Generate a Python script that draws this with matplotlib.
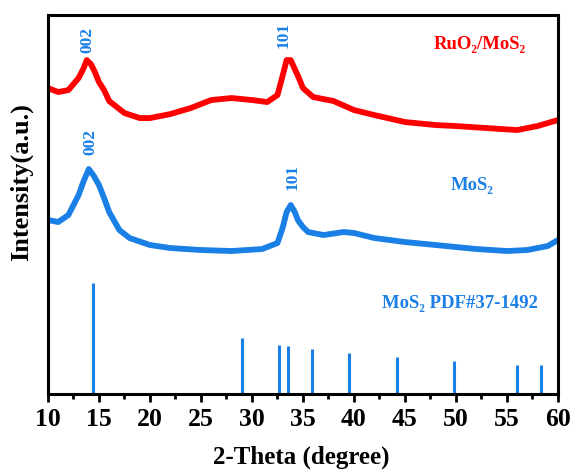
import matplotlib.pyplot as plt
from matplotlib.ticker import MultipleLocator

# XRD patterns (intensity in arbitrary units, curves already offset)
two_theta = [10, 11, 12, 13, 13.5, 13.8, 14.2, 14.6, 15.0, 15.5, 16.0, 16.5, 17.5, 19, 20, 22, 24,
             26, 28, 30, 31.5, 32.5, 33.0, 33.4, 33.8, 34.2, 34.6, 35, 36, 38, 40, 42, 45, 48,
             50, 53, 56, 58, 59, 60]
ruo2_mos2 = [306, 302, 304, 316, 326, 334, 330, 322, 312, 304, 293, 289, 281, 276, 276, 280,
             286, 294, 296, 294, 292, 299, 318, 334, 334, 325, 316, 306, 297, 293, 284, 279,
             272, 269, 268, 266, 264, 268, 271, 274]

mos2_theta = [10, 11, 12, 13, 13.5, 14.0, 14.5, 15, 15.5, 16, 17, 18, 20, 22, 25, 28, 31, 32.5,
              33.0, 33.4, 33.8, 34.2, 34.5, 35, 35.5, 37, 39, 40, 42, 45, 48, 52, 55, 57, 59, 60]
mos2 = [174, 172, 179, 199, 213, 225, 218, 209, 196, 182, 164, 156, 149, 146, 144, 143, 145,
        151, 166, 182, 189, 182, 174, 167, 162, 159, 162, 161, 156, 152, 149, 145, 143, 144,
        148, 154]

# MoS2 reference pattern, PDF#37-1492
pdf_pos = [14.4, 29.0, 32.7, 33.5, 35.9, 39.5, 44.2, 49.8, 56.0, 58.3]
pdf_int = [111, 56, 49, 48, 45, 41, 37, 33, 29, 29]

red = '#ff0000'
blue = '#1a80e6'

plt.rcParams['font.family'] = ['Liberation Serif', 'DejaVu Serif']
plt.rcParams['font.weight'] = 'bold'

fig = plt.figure(figsize=(5.74, 4.71), dpi=100)
ax = fig.add_axes([0.0836, 0.1635, 0.8884, 0.8045])

ax.plot(two_theta, ruo2_mos2, color=red, linewidth=4.2, solid_joinstyle='round')
ax.plot(mos2_theta, mos2, color=blue, linewidth=4.2, solid_joinstyle='round')
ax.vlines(pdf_pos, 0, pdf_int, color=blue, linewidth=2.2)

# peak indices
ax.text(13.9, 354, '002', color=blue, fontsize=12.5, rotation=90, ha='center', va='center')
ax.text(33.1, 359, '101', color=blue, fontsize=12.5, rotation=90, ha='center', va='center')
ax.text(14.2, 252, '002', color=blue, fontsize=12.5, rotation=90, ha='center', va='center')
ax.text(34.0, 217, '101', color=blue, fontsize=12.5, rotation=90, ha='center', va='center')

ax.text(52.3, 350, 'RuO₂/MoS₂', color=red, fontsize=13.5, ha='center', va='center')
ax.text(51.6, 209, 'MoS₂', color=blue, fontsize=13.5, ha='center', va='center')
ax.text(50.4, 91, 'MoS₂ PDF#37-1492', color=blue, fontsize=13.5, ha='center', va='center')

ax.set_xlim(10, 60)
ax.set_ylim(0, 379)
ax.xaxis.set_major_locator(MultipleLocator(5))
ax.xaxis.set_minor_locator(MultipleLocator(2.5))
ax.set_yticks([])
ax.tick_params(axis='x', which='major', direction='out', length=6, width=2, labelsize=18.5, pad=4)
ax.tick_params(axis='x', which='minor', direction='out', length=3.5, width=2)
for s in ax.spines.values():
    s.set_linewidth(2.2)

ax.set_xlabel('2-Theta (degree)', fontsize=18, fontweight='bold')
ax.set_ylabel('Intensity(a.u.)', fontsize=19, fontweight='bold')
ax.xaxis.set_label_coords(0.496, -0.135)
ax.yaxis.set_label_coords(-0.029, 0.56)

fig.savefig('out.png', dpi=100, facecolor='white')
